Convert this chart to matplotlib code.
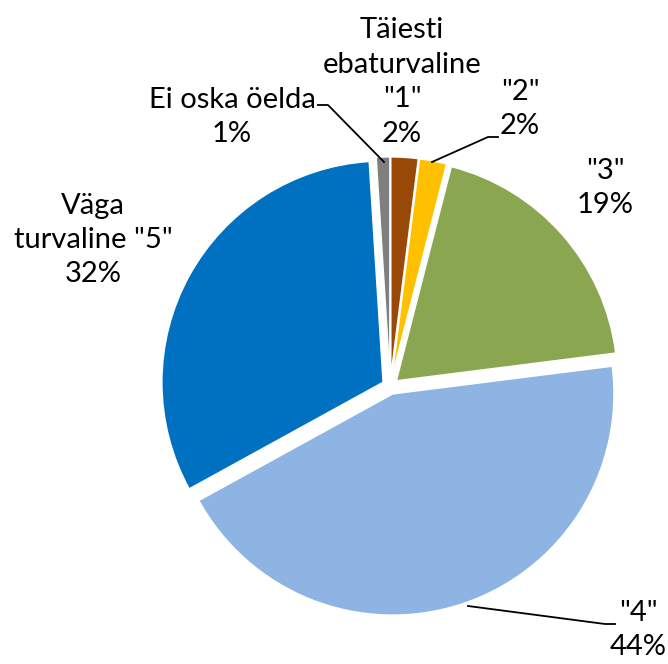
import matplotlib
matplotlib.use("Agg")
import matplotlib.pyplot as plt

# ---- data ----
categories = ['Täiesti\nebaturvaline\n"1"', '"2"', '"3"', '"4"', 'Väga\nturvaline "5"', 'Ei oska öelda']
values = [2, 2, 19, 44, 32, 1]
colors = ['#984807', '#FFC000', '#8AA650', '#8EB4E3', '#0070C0', '#7F7F7F']

W, H = 668, 664
plt.rcParams['font.family'] = ['Lato', 'DejaVu Sans']

fig = plt.figure(figsize=(W / 100, H / 100), dpi=100)
ax = fig.add_axes([0, 0, 1, 1])

def Y(y):
    return H - y

cx, cy, R = 390.2, 386.2, 221.4
ax.pie(values, colors=colors, startangle=90, counterclock=False,
       center=(cx, Y(cy)), radius=R, explode=[8] * len(values),
       wedgeprops=dict(edgecolor='white', linewidth=1.2), frame=False)
ax.set_xlim(0, W)
ax.set_ylim(0, H)
ax.set_aspect('auto')
ax.axis('off')

# label layout (pixel positions of text block centres)
label_pos = [(402, 82), (520, 109), (605, 188), (638, 630), (93, 240), (232, 117)]
for cat, val, (x, y) in zip(categories, values, label_pos):
    ax.text(x, Y(y), f"{cat}\n{val}%", ha='center', va='center',
            fontsize=21, linespacing=1.4, color='black')

# leader lines
leaders = [
    [(318, 105), (328, 105), (384, 162)],
    [(498, 137), (488, 137), (432, 162)],
    [(615, 624), (605, 624), (468, 606)],
]
for pts in leaders:
    ax.plot([p[0] for p in pts], [Y(p[1]) for p in pts], color='black', lw=1.3)

fig.savefig('out.png', dpi=100)
